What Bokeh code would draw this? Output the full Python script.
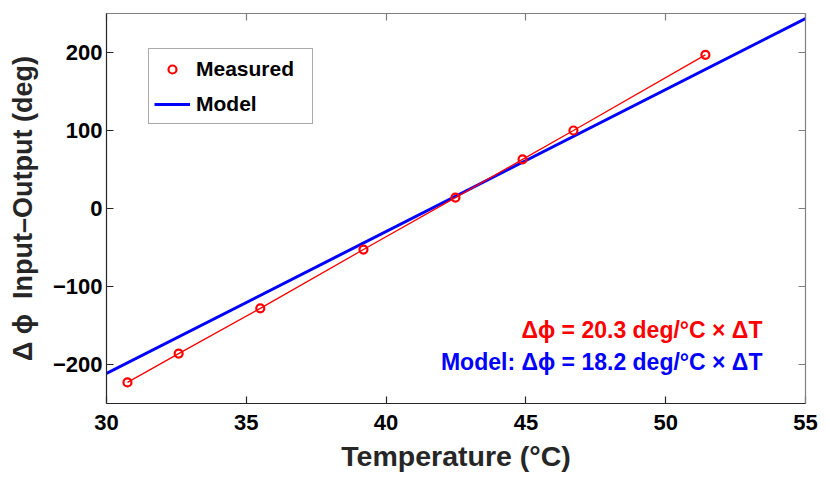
from bokeh.plotting import figure
from bokeh.models import (LinearAxis, Range1d, FixedTicker, Legend, LegendItem,
                          Label, ColumnDataSource)
from bokeh.embed import file_html
from bokeh.resources import INLINE

# ---- data ----
temperature = [30.75, 32.58, 35.5, 39.19, 42.48, 44.88, 46.7, 51.42]
phase_shift = [-223, -186, -128, -52.6, 14, 63, 100, 197]
model_temperature = [30, 55]
model_phase_shift = [-211.5, 243.5]
x_ticks = [30, 35, 40, 45, 50, 55]
y_ticks = [-200, -100, 0, 100, 200]
y_tick_labels = ["\u2212200", "\u2212100", "0", "100", "200"]

FONT = "Liberation Sans"
DARK = "#262626"

p = figure(width=822, height=476, output_backend="svg", toolbar_location=None,
           x_range=Range1d(30, 55), y_range=Range1d(-250, 250),
           min_border_left=106, min_border_right=17, min_border_top=13,
           min_border_bottom=73)
p.grid.visible = False
p.outline_line_color = None
p.background_fill_color = "white"

def style_axis(ax, ticks, color, labels=True):
    ax.ticker = FixedTicker(ticks=ticks)
    ax.major_tick_in = 7
    ax.major_tick_out = 0
    ax.minor_tick_line_color = None
    ax.major_tick_line_color = color
    ax.axis_line_color = color
    ax.major_tick_line_width = 1.2
    ax.axis_line_width = 1.2
    if labels:
        ax.major_label_text_font = FONT
        ax.major_label_text_font_size = "22px"
        ax.major_label_text_font_style = "bold"
        ax.major_label_text_color = "black"
    else:
        ax.major_label_text_font_size = "1px"
        ax.major_label_text_color = None
        ax.major_label_standoff = 0

xa = p.xaxis[0]
ya = p.yaxis[0]
style_axis(xa, x_ticks, DARK)
style_axis(ya, y_ticks, DARK)
ya.major_label_overrides = {t: s for t, s in zip(y_ticks, y_tick_labels)}
xa.major_label_standoff = 11
ya.major_label_standoff = 4

xa.axis_label = "Temperature (\u00b0C)"
xa.axis_label_text_font = FONT
xa.axis_label_text_font_size = "28.5px"
xa.axis_label_text_font_style = "bold"
xa.axis_label_text_color = DARK
xa.axis_label_standoff = 7

ya.axis_label = "\u0394\u00a0\u03d5\u00a0\u00a0Input\u2013Output (deg)"
ya.axis_label_text_font = FONT
ya.axis_label_text_font_size = "27px"
ya.axis_label_text_font_style = "bold"
ya.axis_label_text_color = DARK
ya.axis_label_standoff = 12

top = LinearAxis()
right = LinearAxis()
style_axis(top, x_ticks, "#7f7f7f", labels=False)
style_axis(right, y_ticks, "#7f7f7f", labels=False)
p.add_layout(top, "above")
p.add_layout(right, "right")

meas = ColumnDataSource(dict(t=temperature, d=phase_shift))
model = ColumnDataSource(dict(t=model_temperature, d=model_phase_shift))

model_r = p.line("t", "d", source=model, line_color="#0000ff", line_width=3)
p.line("t", "d", source=meas, line_color="#ff0000", line_width=1.3)
meas_r = p.scatter("t", "d", source=meas, marker="circle", size=8,
                   line_color="#ff0000", line_width=2.2, fill_color=None)

legend = Legend(items=[LegendItem(label="Measured", renderers=[meas_r]),
                       LegendItem(label="Model", renderers=[model_r])],
                location=(42, 279), label_text_font=FONT,
                label_text_font_size="21px", label_text_font_style="bold",
                label_text_color="black",
                glyph_width=36, glyph_height=20, label_height=29, label_width=111,
                spacing=6, padding=5, label_standoff=6, margin=0,
                border_line_color="#555555", border_line_width=1,
                background_fill_color="white", background_fill_alpha=1)
p.add_layout(legend)

p.add_layout(Label(x=53.46, y=-156.4, text="\u0394\u03d5 = 20.3 deg/\u00b0C \u00d7 \u0394T",
                   text_align="right", text_baseline="alphabetic",
                   text_font=FONT, text_font_size="23px", text_font_style="bold",
                   text_color="#ff0000"))
p.add_layout(Label(x=53.46, y=-197.4,
                   text="Model: \u0394\u03d5 = 18.2 deg/\u00b0C \u00d7 \u0394T",
                   text_align="right", text_baseline="alphabetic",
                   text_font=FONT, text_font_size="23px", text_font_style="bold",
                   text_color="#0000ff"))

open("out.html", "w").write(file_html(p, INLINE))
